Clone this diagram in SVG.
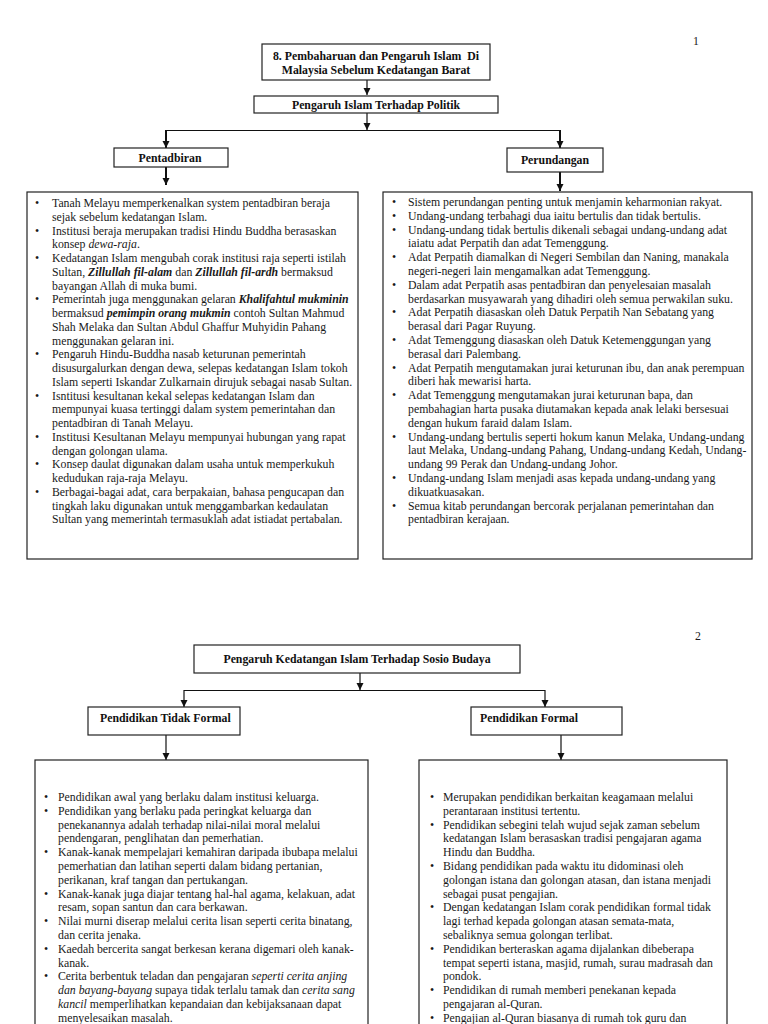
<svg xmlns="http://www.w3.org/2000/svg" width="768" height="1024" viewBox="0 0 768 1024">
<defs>
<marker id="ah" markerUnits="userSpaceOnUse" markerWidth="8" markerHeight="8" refX="7" refY="3.5" orient="auto"><path d="M0,0 L7,3.5 L0,7 z" fill="#111"/></marker>
<style>
.t{font-family:"Liberation Serif","Times New Roman",serif;font-size:11.8px;fill:#1a1a1a}
.h{font-family:"Liberation Serif","Times New Roman",serif;font-size:11.8px;font-weight:bold;fill:#111}
.i{font-style:italic}
.bi{font-style:italic;font-weight:bold}
.box{fill:#fff;stroke:#222;stroke-width:1.2}
.ln{stroke:#111;stroke-width:1.2;fill:none}
.thk{stroke:#111;stroke-width:2;fill:none}
</style>
</defs>
<rect width="768" height="1024" fill="#fff"/>
<text class="t" x="693" y="45">1</text>
<text class="t" x="695" y="640">2</text>

<g id="connectors">
<line class="ln" x1="367" y1="80" x2="367" y2="95" marker-end="url(#ah)"/>
<line class="ln" x1="367" y1="113" x2="367" y2="130" marker-end="url(#ah)"/>
<line class="ln" x1="166" y1="130.5" x2="560" y2="130.5" stroke-width="1.6"/>
<line class="thk" x1="166" y1="130" x2="166" y2="148" marker-end="url(#ah)"/>
<line class="thk" x1="560" y1="130" x2="560" y2="148" marker-end="url(#ah)"/>
<line class="thk" x1="166" y1="167" x2="166" y2="185" marker-end="url(#ah)"/>
<line class="thk" x1="560" y1="172" x2="560" y2="191" marker-end="url(#ah)"/>
<line class="ln" x1="360" y1="673" x2="360" y2="690" marker-end="url(#ah)"/>
<line class="ln" x1="184" y1="690.5" x2="545" y2="690.5"/>
<line class="ln" x1="184" y1="690" x2="184" y2="707" marker-end="url(#ah)"/>
<line class="ln" x1="545" y1="690" x2="545" y2="707" marker-end="url(#ah)"/>
<line class="ln" x1="166" y1="735" x2="166" y2="760" marker-end="url(#ah)"/>
<line class="ln" x1="561" y1="735" x2="561" y2="760" marker-end="url(#ah)"/>
</g>

<g id="title1">
<rect class="box" x="262" y="44" width="228" height="36"/>
<text class="h" x="376" y="60" text-anchor="middle">8. Pembaharuan dan Pengaruh Islam &#160;Di</text>
<text class="h" x="376" y="74" text-anchor="middle">Malaysia Sebelum Kedatangan Barat</text>
</g>

<g id="politik">
<rect class="box" x="254" y="96" width="244" height="17"/>
<text class="h" x="376" y="108.5" text-anchor="middle">Pengaruh Islam Terhadap Politik</text>
</g>

<g id="pentadbiran">
<rect class="box" x="114" y="148" width="114" height="19"/>
<text class="h" x="170" y="161.5" text-anchor="middle">Pentadbiran</text>
</g>

<g id="perundangan">
<rect class="box" x="507" y="148" width="96" height="24"/>
<text class="h" x="555" y="164" text-anchor="middle">Perundangan</text>
</g>

<g id="pentadbiran-list">
<rect class="box" x="27" y="192" width="331" height="367"/>
<g class="t">
<text x="35" y="207">•</text><text x="52" y="207">Tanah Melayu memperkenalkan system pentadbiran beraja</text>
<text x="52" y="220.75">sejak sebelum kedatangan Islam.</text>
<text x="35" y="234.5">•</text><text x="52" y="234.5">Institusi beraja merupakan tradisi Hindu Buddha berasaskan</text>
<text x="52" y="248.25">konsep <tspan class="i">dewa-raja</tspan>.</text>
<text x="35" y="262">•</text><text x="52" y="262">Kedatangan Islam mengubah corak institusi raja seperti istilah</text>
<text x="52" y="275.75">Sultan, <tspan class="bi">Zillullah fil-alam</tspan> dan <tspan class="bi">Zillullah fil-ardh</tspan> bermaksud</text>
<text x="52" y="289.5">bayangan Allah di muka bumi.</text>
<text x="35" y="303.25">•</text><text x="52" y="303.25">Pemerintah juga menggunakan gelaran <tspan class="bi">Khalifahtul mukminin</tspan></text>
<text x="52" y="317">bermaksud <tspan class="bi">pemimpin orang mukmin</tspan> contoh Sultan Mahmud</text>
<text x="52" y="330.75">Shah Melaka dan Sultan Abdul Ghaffur Muhyidin Pahang</text>
<text x="52" y="344.5">menggunakan gelaran ini.</text>
<text x="35" y="358.25">•</text><text x="52" y="358.25">Pengaruh Hindu-Buddha nasab keturunan pemerintah</text>
<text x="52" y="372">disusurgalurkan dengan dewa, selepas kedatangan Islam tokoh</text>
<text x="52" y="385.75">Islam seperti Iskandar Zulkarnain dirujuk sebagai nasab Sultan.</text>
<text x="35" y="399.5">•</text><text x="52" y="399.5">Isntitusi kesultanan kekal selepas kedatangan Islam dan</text>
<text x="52" y="413.25">mempunyai kuasa tertinggi dalam system pemerintahan dan</text>
<text x="52" y="427">pentadbiran di Tanah Melayu.</text>
<text x="35" y="440.75">•</text><text x="52" y="440.75">Institusi Kesultanan Melayu mempunyai hubungan yang rapat</text>
<text x="52" y="454.5">dengan golongan ulama.</text>
<text x="35" y="468.25">•</text><text x="52" y="468.25">Konsep daulat digunakan dalam usaha untuk memperkukuh</text>
<text x="52" y="482">kedudukan raja-raja Melayu.</text>
<text x="35" y="495.75">•</text><text x="52" y="495.75">Berbagai-bagai adat, cara berpakaian, bahasa pengucapan dan</text>
<text x="52" y="509.5">tingkah laku digunakan untuk menggambarkan kedaulatan</text>
<text x="52" y="523.25">Sultan yang memerintah termasuklah adat istiadat pertabalan.</text>
</g>
</g>

<g id="perundangan-list">
<rect class="box" x="383" y="192" width="369" height="367"/>
<g class="t">
<text x="392" y="206">•</text><text x="408" y="206">Sistem perundangan penting untuk menjamin keharmonian rakyat.</text>
<text x="392" y="219.8">•</text><text x="408" y="219.8">Undang-undang terbahagi dua iaitu bertulis dan tidak bertulis.</text>
<text x="392" y="233.6">•</text><text x="408" y="233.6">Undang-undang tidak bertulis dikenali sebagai undang-undang adat</text>
<text x="408" y="247.4">iaiatu adat Perpatih dan adat Temenggung.</text>
<text x="392" y="261.2">•</text><text x="408" y="261.2">Adat Perpatih diamalkan di Negeri Sembilan dan Naning, manakala</text>
<text x="408" y="275">negeri-negeri lain mengamalkan adat Temenggung.</text>
<text x="392" y="288.8">•</text><text x="408" y="288.8">Dalam adat Perpatih asas pentadbiran dan penyelesaian masalah</text>
<text x="408" y="302.6">berdasarkan musyawarah yang dihadiri oleh semua perwakilan suku.</text>
<text x="392" y="316.4">•</text><text x="408" y="316.4">Adat Perpatih diasaskan oleh Datuk Perpatih Nan Sebatang yang</text>
<text x="408" y="330.2">berasal dari Pagar Ruyung.</text>
<text x="392" y="344">•</text><text x="408" y="344">Adat Temenggung diasaskan oleh Datuk Ketemenggungan yang</text>
<text x="408" y="357.8">berasal dari Palembang.</text>
<text x="392" y="371.6">•</text><text x="408" y="371.6">Adat Perpatih mengutamakan jurai keturunan ibu, dan anak perempuan</text>
<text x="408" y="385.4">diberi hak mewarisi harta.</text>
<text x="392" y="399.2">•</text><text x="408" y="399.2">Adat Temenggung mengutamakan jurai keturunan bapa, dan</text>
<text x="408" y="413">pembahagian harta pusaka diutamakan kepada anak lelaki bersesuai</text>
<text x="408" y="426.8">dengan hukum faraid dalam Islam.</text>
<text x="392" y="440.6">•</text><text x="408" y="440.6">Undang-undang bertulis seperti hokum kanun Melaka, Undang-undang</text>
<text x="408" y="454.4">laut Melaka, Undang-undang Pahang, Undang-undang Kedah, Undang-</text>
<text x="408" y="468.2">undang 99 Perak dan Undang-undang Johor.</text>
<text x="392" y="482">•</text><text x="408" y="482">Undang-undang Islam menjadi asas kepada undang-undang yang</text>
<text x="408" y="495.8">dikuatkuasakan.</text>
<text x="392" y="509.6">•</text><text x="408" y="509.6">Semua kitab perundangan bercorak perjalanan pemerintahan dan</text>
<text x="408" y="523.4">pentadbiran kerajaan.</text>
</g>
</g>

<g id="title2">
<rect class="box" x="194" y="645" width="326" height="28"/>
<text class="h" x="357" y="663" text-anchor="middle">Pengaruh Kedatangan Islam Terhadap Sosio Budaya</text>
</g>

<g id="tidak-formal">
<rect class="box" x="88" y="707" width="152" height="28"/>
<text class="h" x="100" y="722">Pendidikan Tidak Formal</text>
</g>

<g id="formal">
<rect class="box" x="471" y="707" width="151" height="28"/>
<text class="h" x="480" y="722">Pendidikan Formal</text>
</g>

<g id="tidak-formal-list">
<rect class="box" x="35" y="760" width="333" height="280"/>
<g class="t">
<text x="44" y="801">•</text><text x="58" y="801">Pendidikan awal yang berlaku dalam institusi keluarga.</text>
<text x="44" y="814.8">•</text><text x="58" y="814.8">Pendidikan yang berlaku pada peringkat keluarga dan</text>
<text x="58" y="828.6">penekanannya adalah terhadap nilai-nilai moral melalui</text>
<text x="58" y="842.4">pendengaran, penglihatan dan pemerhatian.</text>
<text x="44" y="856.2">•</text><text x="58" y="856.2">Kanak-kanak mempelajari kemahiran daripada ibubapa melalui</text>
<text x="58" y="870">pemerhatian dan latihan seperti dalam bidang pertanian,</text>
<text x="58" y="883.8">perikanan, kraf tangan dan pertukangan.</text>
<text x="44" y="897.6">•</text><text x="58" y="897.6">Kanak-kanak juga diajar tentang hal-hal agama, kelakuan, adat</text>
<text x="58" y="911.4">resam, sopan santun dan cara berkawan.</text>
<text x="44" y="925.2">•</text><text x="58" y="925.2">Nilai murni diserap melalui cerita lisan seperti cerita binatang,</text>
<text x="58" y="939">dan cerita jenaka.</text>
<text x="44" y="952.8">•</text><text x="58" y="952.8">Kaedah bercerita sangat berkesan kerana digemari oleh kanak-</text>
<text x="58" y="966.6">kanak.</text>
<text x="44" y="980.4">•</text><text x="58" y="980.4">Cerita berbentuk teladan dan pengajaran <tspan class="i">seperti cerita anjing</tspan></text>
<text x="58" y="994.2"><tspan class="i">dan bayang-bayang</tspan> supaya tidak terlalu tamak dan <tspan class="i">cerita sang</tspan></text>
<text x="58" y="1008"><tspan class="i">kancil</tspan> memperlihatkan kepandaian dan kebijaksanaan dapat</text>
<text x="58" y="1021.8">menyelesaikan masalah.</text>
</g>
</g>

<g id="formal-list">
<rect class="box" x="419" y="760" width="308" height="280"/>
<g class="t">
<text x="430" y="801">•</text><text x="443" y="801">Merupakan pendidikan berkaitan keagamaan melalui</text>
<text x="443" y="814.8">perantaraan institusi tertentu.</text>
<text x="430" y="828.6">•</text><text x="443" y="828.6">Pendidikan sebegini telah wujud sejak zaman sebelum</text>
<text x="443" y="842.4">kedatangan Islam berasaskan tradisi pengajaran agama</text>
<text x="443" y="856.2">Hindu dan Buddha.</text>
<text x="430" y="870">•</text><text x="443" y="870">Bidang pendidikan pada waktu itu didominasi oleh</text>
<text x="443" y="883.8">golongan istana dan golongan atasan, dan istana menjadi</text>
<text x="443" y="897.6">sebagai pusat pengajian.</text>
<text x="430" y="911.4">•</text><text x="443" y="911.4">Dengan kedatangan Islam corak pendidikan formal tidak</text>
<text x="443" y="925.2">lagi terhad kepada golongan atasan semata-mata,</text>
<text x="443" y="939">sebaliknya semua golongan terlibat.</text>
<text x="430" y="952.8">•</text><text x="443" y="952.8">Pendidikan berteraskan agama dijalankan dibeberapa</text>
<text x="443" y="966.6">tempat seperti istana, masjid, rumah, surau madrasah dan</text>
<text x="443" y="980.4">pondok.</text>
<text x="430" y="994.2">•</text><text x="443" y="994.2">Pendidikan di rumah memberi penekanan kepada</text>
<text x="443" y="1008">pengajaran al-Quran.</text>
<text x="430" y="1021.8">•</text><text x="443" y="1021.8">Pengajian al-Quran biasanya di rumah tok guru dan</text>
</g>
</g>
</svg>
